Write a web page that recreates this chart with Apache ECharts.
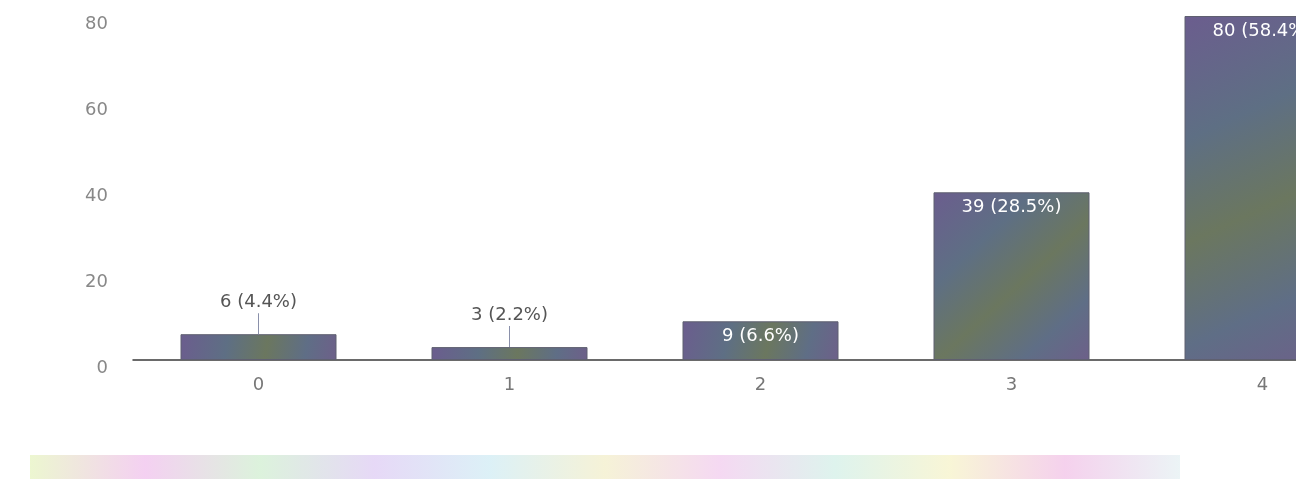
<!DOCTYPE html>
<html>
<head>
<meta charset="utf-8">
<script src="https://cdn.jsdelivr.net/npm/echarts@6/dist/echarts.min.js"></script>
<style>
html,body{margin:0;padding:0;background:#fff;overflow:hidden;width:1296px;height:479px;}
#chart{width:1392px;height:479px;}
</style>
</head>
<body>
<div id="chart"></div>
<script>
const categories = ['0', '1', '2', '3', '4'];
const counts = [6, 3, 9, 39, 80];
const percents = ['4.4%', '2.2%', '6.6%', '28.5%', '58.4%'];
const yTicks = [0, 20, 40, 60, 80];

const FONT = 'DejaVu Sans';
const barFill = new echarts.graphic.LinearGradient(0, 0, 1, 1, [
  {offset: 0, color: '#6b5d8e'},
  {offset: 0.3, color: '#5e6f84'},
  {offset: 0.55, color: '#6b775f'},
  {offset: 0.8, color: '#5f6e86'},
  {offset: 1, color: '#6d6089'}
]);

const data = counts.map((v, i) => {
  const small = v < 8;
  return {
    value: v,
    label: small ? {
      position: 'top', distance: 0, color: '#555',
      formatter: p => '{t|' + p.value + ' (' + percents[p.dataIndex] + ')}\n{l|}',
      rich: {
        t: {color: '#555', fontFamily: FONT, fontSize: 18, lineHeight: 22},
        l: {width: 1, height: 21, backgroundColor: '#8a90aa', lineHeight: 21}
      }
    } : {
      position: 'insideTop', distance: 6, color: '#ffffff'
    }
  };
});

const chart = echarts.init(document.getElementById('chart'));
chart.setOption({
  animation: false,
  backgroundColor: '#ffffff',
  grid: {left: 133, right: 4, top: 16, bottom: 119, containLabel: false},
  xAxis: {
    type: 'category',
    data: categories,
    axisLine: {show: true, lineStyle: {color: '#3a3a3a', width: 1.5}},
    axisTick: {show: false},
    axisLabel: {color: '#777', fontFamily: FONT, fontSize: 18, margin: 16}
  },
  yAxis: {
    type: 'value',
    min: yTicks[0],
    max: yTicks[yTicks.length - 1],
    interval: 20,
    axisLine: {show: false},
    axisTick: {show: false},
    splitLine: {show: false},
    axisLabel: {
      margin: 25,
      formatter: v => '{a|' + v + '}',
      rich: {a: {color: '#888', fontFamily: FONT, fontSize: 18, padding: [16, 0, 0, 0]}}
    }
  },
  series: [{
    type: 'bar',
    data: data,
    barWidth: 156,
    itemStyle: {color: barFill, borderColor: '#5f6070', borderWidth: 1},
    label: {
      show: true,
      fontFamily: FONT,
      fontSize: 18,
      formatter: p => p.value + ' (' + percents[p.dataIndex] + ')'
    }
  }],
  graphic: [{
    type: 'rect',
    left: 30, top: 455,
    shape: {width: 1150, height: 24},
    style: {
      fill: new echarts.graphic.LinearGradient(0, 0, 1, 0, [
        {offset: 0, color: '#e9f5c8'},
        {offset: 0.1, color: '#f2c8ef'},
        {offset: 0.2, color: '#d6f0d6'},
        {offset: 0.3, color: '#e2d2f5'},
        {offset: 0.4, color: '#d6eef5'},
        {offset: 0.5, color: '#f4f0d0'},
        {offset: 0.6, color: '#f3d2f0'},
        {offset: 0.7, color: '#d8f1ea'},
        {offset: 0.8, color: '#f7f4cf'},
        {offset: 0.9, color: '#f3c9ea'},
        {offset: 1, color: '#e8f2f4'}
      ]),
      opacity: 0.85
    }
  }]
});
</script>
</body>
</html>
